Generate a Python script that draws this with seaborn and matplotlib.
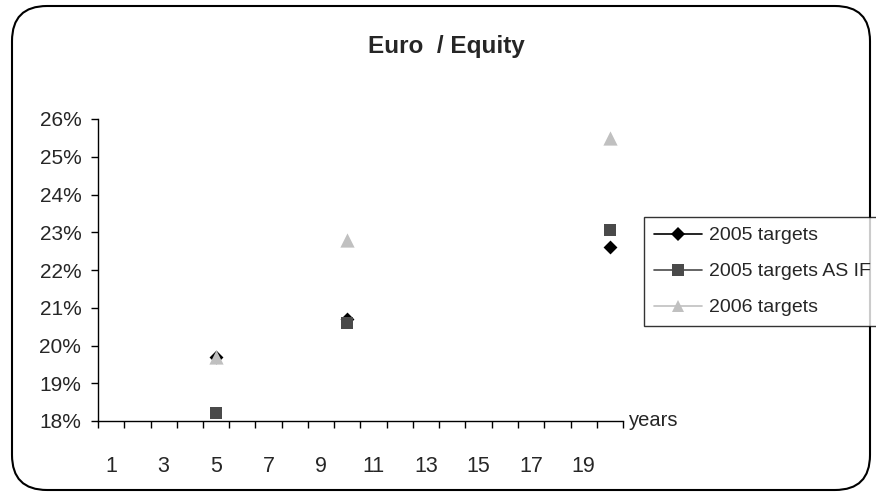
import matplotlib
matplotlib.use("Agg")
import matplotlib.pyplot as plt
import matplotlib.patches as mpatches
from matplotlib.lines import Line2D
from matplotlib.ticker import FixedLocator, PercentFormatter
import pandas as pd
import seaborn as sns

# ── Data ──────────────────────────────────────────────────────────────────────
YEARS        = [5, 10, 20]
T2005        = [19.7, 20.7, 22.6]
T2005_ASIF   = [18.2, 20.6, 23.05]
T2006        = [19.7, 22.8, 25.5]
SERIES       = ["2005 targets", "2005 targets AS IF", "2006 targets"]
X_LABELS     = [str(v) for v in range(1, 20, 2)]

COLORS  = {"2005 targets": "#000000", "2005 targets AS IF": "#4a4a4a", "2006 targets": "#c0c0c0"}
MARKERS = {"2005 targets": "D", "2005 targets AS IF": "s", "2006 targets": "^"}
SIZES   = {"2005 targets": 50, "2005 targets AS IF": 75, "2006 targets": 105}

df = pd.DataFrame({
    "year":   YEARS * 3,
    "value":  T2005 + T2005_ASIF + T2006,
    "series": [SERIES[0]] * 3 + [SERIES[1]] * 3 + [SERIES[2]] * 3,
})

sns.set_style("white")
plt.rcParams["font.family"] = ["Liberation Sans", "DejaVu Sans"]

fig = plt.figure(figsize=(8.76, 4.96), dpi=100)
ax = fig.add_axes([98 / 876, 1 - 421 / 496, (623 - 98) / 876, (421 - 119) / 496])

# Excel draw order: series 1 first, later series on top
for i, name in enumerate(SERIES):
    sub = df[df["series"] == name]
    sns.scatterplot(data=sub, x="year", y="value", ax=ax, color=COLORS[name],
                    marker=MARKERS[name], s=SIZES[name], linewidth=0, legend=False,
                    zorder=3 + i)

ax.set_xlim(0.5, 20.5)
ax.set_ylim(18, 26)
ax.set_xlabel("")
ax.set_ylabel("")

# category boundaries as tick marks, labels at odd categories
ax.xaxis.set_major_locator(FixedLocator([i + 0.5 for i in range(0, 21)]))
ax.xaxis.set_major_formatter(plt.NullFormatter())
ax.xaxis.set_minor_locator(FixedLocator([int(v) for v in X_LABELS]))
ax.set_xticklabels(X_LABELS, minor=True)
ax.tick_params(axis="x", which="major", direction="out", length=5, width=1, color="black", bottom=True)
ax.tick_params(axis="x", which="minor", length=0, labelsize=15.5, pad=25)

ax.yaxis.set_major_locator(FixedLocator(list(range(18, 27))))
ax.yaxis.set_major_formatter(PercentFormatter(decimals=0))
ax.tick_params(axis="y", direction="out", length=5, width=1, color="black", left=True,
               labelsize=15, pad=7)

for side in ["top", "right"]:
    ax.spines[side].set_visible(False)
for side in ["left", "bottom"]:
    ax.spines[side].set_color("black")
    ax.spines[side].set_linewidth(1)

ax.text(1.012, 0, "years", transform=ax.transAxes, fontsize=14.5, va="center", ha="left")

fig.suptitle("Euro  / Equity", x=0.51, y=0.93, fontsize=17.5, fontweight="bold")

handles = [
    Line2D([], [], color=COLORS[n], marker=MARKERS[n], markersize=7 if n == SERIES[0] else 8.5,
           markeredgewidth=0, lw=1.2, label=n)
    for n in SERIES
]
leg = fig.legend(handles=handles, loc="upper left", bbox_to_anchor=(644 / 876, 1 - 217 / 496),
                 frameon=True, fancybox=False, fontsize=14, handlelength=2.5,
                 handletextpad=0.35, borderpad=0.5, labelspacing=0.95, borderaxespad=0)
leg.get_frame().set_edgecolor("black")
leg.get_frame().set_linewidth(1)

# rounded outer frame
fig.patches.append(mpatches.FancyBboxPatch(
    (12 / 876, 6 / 496), (870 - 12) / 876, (490 - 6) / 496,
    boxstyle="round,pad=0,rounding_size=0.04", transform=fig.transFigure,
    facecolor="none", edgecolor="black", linewidth=1.5, mutation_aspect=876 / 496))

fig.savefig("out.png", dpi=100)
